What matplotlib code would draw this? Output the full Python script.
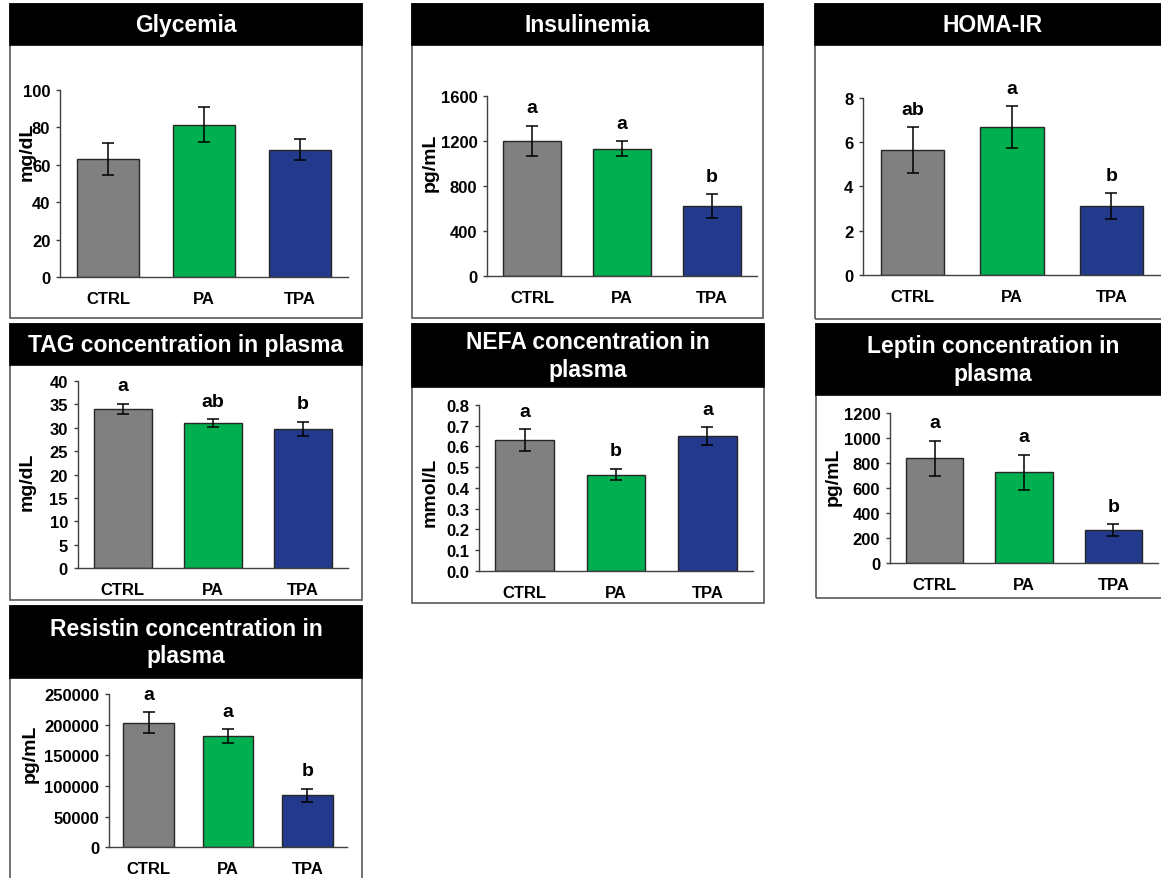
"""Plasma metabolic markers: seven bar panels with boxed black titles."""

import matplotlib

matplotlib.use("Agg")
import matplotlib.pyplot as plt
from matplotlib.patches import Rectangle
from matplotlib.ticker import FormatStrFormatter, MultipleLocator

plt.rcParams["font.family"] = ["Liberation Sans", "DejaVu Sans"]
plt.rcParams["font.weight"] = "bold"

# ---- data (mean, SEM) ----
groups = ["CTRL", "PA", "TPA"]
bar_colors = ["#808080", "#00B050", "#233A8C"]

glycemia = [63.1, 81.4, 68.1]
glycemia_err = [8.5, 9.3, 5.5]
glycemia_letters = ["", "", ""]

insulin = [1200, 1129, 619]
insulin_err = [135, 65, 105]
insulin_letters = ["a", "a", "b"]

homa = [5.64, 6.68, 3.10]
homa_err = [1.02, 0.93, 0.59]
homa_letters = ["ab", "a", "b"]

tag = [34.0, 31.0, 29.75]
tag_err = [1.1, 0.8, 1.5]
tag_letters = ["a", "ab", "b"]

nefa = [0.631, 0.464, 0.649]
nefa_err = [0.052, 0.027, 0.043]
nefa_letters = ["a", "b", "a"]

leptin = [840, 728, 266]
leptin_err = [140, 138, 45]
leptin_letters = ["a", "a", "b"]

resistin = [203000, 181000, 84800]
resistin_err = [17000, 11500, 10200]
resistin_letters = ["a", "a", "b"]

W, H = 1161, 879
fig = plt.figure(figsize=(W / 100, H / 100), dpi=100)


def fig_rect(x0, y0, x1, y1):
    return [x0 / W, 1 - y1 / H, (x1 - x0) / W, (y1 - y0) / H]


def panel(title, frame, title_bottom, axbox, vals, errs, letters, ymax, step,
          ylabel=None, ylabel_pos=None, fmt="%d"):
    x0, y0, x1, y1 = frame
    fig.add_artist(Rectangle((x0 / W, 1 - y1 / H), (x1 - x0) / W, (y1 - y0) / H,
                             transform=fig.transFigure, fill=False,
                             edgecolor="#595959", lw=1.2, zorder=0))
    fig.add_artist(Rectangle((x0 / W, 1 - title_bottom / H), (x1 - x0) / W,
                             (title_bottom - y0) / H, transform=fig.transFigure,
                             facecolor="black", edgecolor="black", lw=1.2, zorder=1))
    fig.text((x0 + x1) / 2 / W, 1 - (y0 + title_bottom) / 2 / H, title,
             color="white", fontsize=16.5, fontweight="bold", ha="center",
             va="center", linespacing=1.25)

    ax = fig.add_axes(fig_rect(*axbox))
    ax.patch.set_alpha(0)
    x = range(len(groups))
    ax.bar(x, vals, width=0.64, color=bar_colors, edgecolor="#262626", lw=1,
           yerr=errs, capsize=4,
           error_kw=dict(ecolor="black", elinewidth=1.1, capthick=1.1))
    ax.set_xlim(-0.5, 2.5)
    ax.set_ylim(0, ymax)
    ax.yaxis.set_major_locator(MultipleLocator(step))
    ax.yaxis.set_major_formatter(FormatStrFormatter(fmt))
    ax.set_xticks(list(x))
    ax.set_xticklabels(groups)
    for s in ("top", "right"):
        ax.spines[s].set_visible(False)
    for s in ("left", "bottom"):
        ax.spines[s].set_color("#404040")
        ax.spines[s].set_linewidth(1)
    ax.tick_params(axis="y", length=3, width=1, color="#404040", pad=4, labelsize=12)
    ax.tick_params(axis="x", length=0, pad=10, labelsize=12)
    for lab in ax.get_xticklabels() + ax.get_yticklabels():
        lab.set_fontweight("bold")
    for i, (v, e, t) in enumerate(zip(vals, errs, letters)):
        if t:
            ax.annotate(t, (i, v + e), xytext=(0, 13), textcoords="offset points",
                        ha="center", va="center", fontsize=14, fontweight="bold",
                        annotation_clip=False)
    if ylabel:
        fig.text(ylabel_pos[0] / W, 1 - ylabel_pos[1] / H, ylabel, rotation=90,
                 fontsize=14, fontweight="bold", ha="center", va="center")
    return ax


panel("Glycemia", (10, 5, 362, 319), 46, (60, 91, 348, 278),
      glycemia, glycemia_err, glycemia_letters, 100, 20, "mg/dL", (27, 152))
panel("Insulinemia", (412, 5, 763, 319), 46, (487, 96.7, 757, 276.7),
      insulin, insulin_err, insulin_letters, 1600, 400, "pg/mL", (430, 163))
panel("HOMA-IR", (815, 5, 1170, 320), 46, (863, 98.7, 1161, 276),
      homa, homa_err, homa_letters, 8, 2)
panel("TAG concentration in plasma", (10, 325, 362, 601), 366,
      (77.7, 382, 348, 569.3), tag, tag_err, tag_letters, 40, 5,
      "mg/dL", (27, 482))
panel("NEFA concentration in\nplasma", (412, 325, 764, 604), 388,
      (479, 406, 753, 571.7), nefa, nefa_err, nefa_letters, 0.8, 0.1,
      "mmol/L", (430, 492), fmt="%.1f")
panel("Leptin concentration in\nplasma", (816, 325, 1170, 599), 396,
      (890, 414.3, 1158, 564.3), leptin, leptin_err, leptin_letters, 1200, 200,
      "pg/mL", (833, 477))
panel("Resistin concentration in\nplasma", (10, 607, 362, 895), 679,
      (109, 695, 347, 848.3), resistin, resistin_err, resistin_letters,
      250000, 50000, "pg/mL", (30, 754))

fig.savefig("out.png", dpi=100, facecolor="white")
